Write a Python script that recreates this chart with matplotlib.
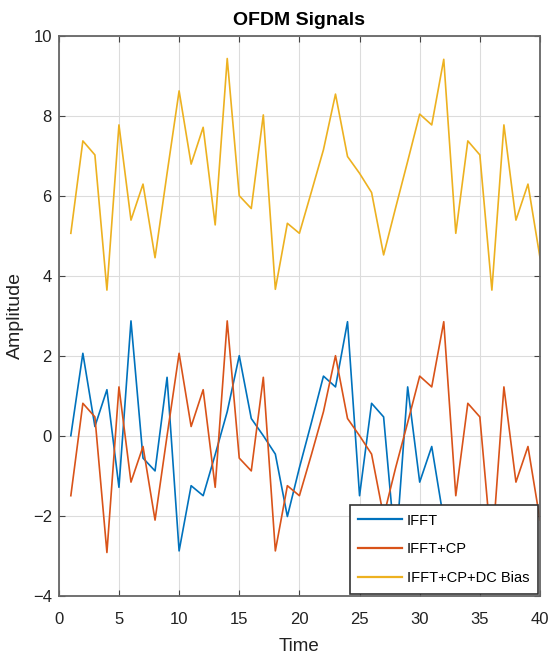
import matplotlib
matplotlib.use('Agg')
import matplotlib.pyplot as plt
import numpy as np

# values
ifft = [0.0, 2.06, 0.23, 1.15, -1.29, 2.87, -0.56, -0.88,
        1.46, -2.88, -1.25, -1.50, -0.47, 0.60, 2.00, 0.43,
        0.0, -0.46, -2.02, -0.80, 0.33, 1.49, 1.22, 2.85,
        -1.50, 0.81, 0.47, -2.92, 1.22, -1.16, -0.27, -2.11]

ifft_cp = [-1.50, 0.81, 0.47, -2.92, 1.22, -1.16, -0.27, -2.11,
           0.0, 2.06, 0.23, 1.15, -1.29, 2.87, -0.56, -0.88,
           1.46, -2.88, -1.25, -1.50, -0.47, 0.60, 2.00, 0.43,
           0.0, -0.46, -2.02, -0.80, 0.33, 1.49, 1.22, 2.85,
           -1.50, 0.81, 0.47, -2.92, 1.22, -1.16, -0.27, -2.11]

ifft_cp_dc = [5.06, 7.37, 7.02, 3.64, 7.77, 5.39, 6.29, 4.45,
              6.56, 8.62, 6.79, 7.71, 5.27, 9.43, 6.00, 5.68,
              8.02, 3.66, 5.31, 5.06, 6.10, 7.15, 8.54, 6.98,
              6.56, 6.08, 4.52, 5.70, 6.86, 8.04, 7.77, 9.41,
              5.06, 7.37, 7.02, 3.64, 7.77, 5.39, 6.29, 4.45]

labels = ['IFFT', 'IFFT+CP', 'IFFT+CP+DC Bias']
colors = ['#0072BD', '#D95319', '#EDB120']

FONT = ['Liberation Sans', 'DejaVu Sans']


def main() -> None:
    fig = plt.figure(figsize=(5.48, 6.65), dpi=100)
    ax = fig.add_axes([0.1073, 0.1042, 0.8781, 0.8421])

    series = [ifft, ifft_cp, ifft_cp_dc]
    for vals, lab, col in zip(series, labels, colors):
        t = np.arange(1, len(vals) + 1)
        ax.plot(t, vals, color=col, linewidth=1.2, label=lab)

    ax.set_xlim(0, 40)
    ax.set_ylim(-4, 10)
    ax.set_xticks(np.arange(0, 41, 5))
    ax.set_yticks(np.arange(-4, 11, 2))
    ax.grid(True, color='#dcdcdc', linewidth=0.8)
    ax.set_axisbelow(True)

    for sp in ax.spines.values():
        sp.set_color('#666666')
        sp.set_linewidth(1.3)

    ax.tick_params(direction='in', top=True, right=True, length=4,
                   color='#444444', labelsize=12, labelcolor='#222222')
    ax.tick_params(axis='x', pad=12)
    ax.tick_params(axis='y', pad=5)
    for lbl in ax.get_xticklabels() + ax.get_yticklabels():
        lbl.set_family(FONT)

    ax.set_title('OFDM Signals', fontsize=14, fontweight='bold',
                 family=FONT, pad=8)
    ax.set_xlabel('Time', fontsize=13.5, family=FONT, labelpad=8,
                  color='#222222')
    ax.set_ylabel('Amplitude', fontsize=14, family=FONT,
                  labelpad=6, color='#222222')

    leg = ax.legend(loc='lower right', borderaxespad=0.15, fancybox=False,
                    framealpha=1.0, edgecolor='#333333', handlelength=3.0,
                    labelspacing=1.0, handletextpad=0.3, borderpad=0.6,
                    prop={'family': FONT, 'size': 10.5})
    leg.get_frame().set_linewidth(1.2)
    for ln in leg.get_lines():
        ln.set_linewidth(1.6)

    fig.savefig('out.png', dpi=100)


if __name__ == '__main__':
    main()
